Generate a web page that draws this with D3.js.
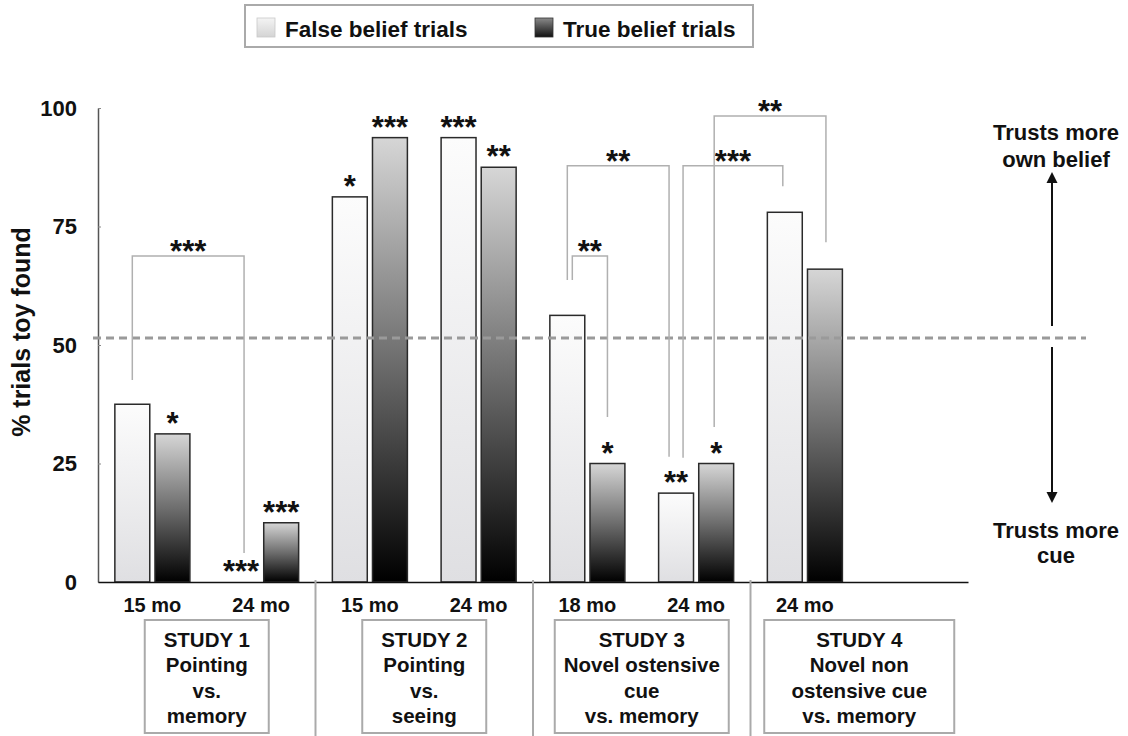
<!DOCTYPE html>
<html>
<head>
<meta charset="utf-8">
<script src="https://cdn.jsdelivr.net/npm/d3@7"></script>
<style>
  body { margin: 0; background: #fff; }
  text { font-family: "Liberation Sans", Arial, Helvetica, sans-serif; font-weight: bold; fill: #111; }
</style>
</head>
<body>
<div id="wrapper"></div>
<script>
// data
const ageLabels = ["15 mo", "24 mo", "15 mo", "24 mo", "18 mo", "24 mo", "24 mo"]
const falseBelief = [37.5, 0, 81.25, 93.75, 56.25, 18.75, 78]
const trueBelief = [31.25, 12.5, 93.75, 87.5, 25, 25, 66]
const falseStars = ["", "***", "*", "***", "", "**", ""]
const trueStars = ["*", "***", "***", "**", "*", "*", ""]
const seriesNames = ["False belief trials", "True belief trials"]
const yTicks = [0, 25, 50, 75, 100]
const chanceLevel = 51.5

const studyTitles = ["STUDY 1", "STUDY 2", "STUDY 3", "STUDY 4"]
const studyLines = [
  ["Pointing", "vs.", "memory"],
  ["Pointing", "vs.", "seeing"],
  ["Novel ostensive", "cue", "vs. memory"],
  ["Novel non", "ostensive cue", "vs. memory"],
]
// first and last slot of each study (slot 7 is the empty one at the right)
const studySlots = [[0, 1], [2, 3], [4, 5], [6, 7]]

// brackets: [slot A, series A, leg A end, slot B, series B, leg B end, top, label]
const brackets = [
  [0, 0, 42.6, 1, 0, 6.1, 68.8, "***"],
  [4, 0, 63.7, 4, 1, 34.8, 68.8, "**"],
  [4, 0, 63.7, 5, 0, 26.4, 87.8, "**"],
  [5, 0, 26.2, 6, 0, 83.5, 87.8, "***"],
  [5, 1, 32.7, 6, 1, 71.7, 98.3, "**"],
]

// layout
const width = 1128
const height = 736
const plot = { left: 98, right: 968, top: 108, bottom: 582 }
const legNudge = [[0, 3], [5, 0], [0, -7], [7, -2], [-2, 1]]
const boxWidths = [124, 124, 174, 190]
// the asterisk glyph sits high, so a baseline at the bar top puts it ~17px above
const starSize = 31

const svg = d3.select("#wrapper")
  .append("svg")
  .attr("width", width)
  .attr("height", height)

const defs = svg.append("defs")
function grad(id, stops) {
  const g = defs.append("linearGradient")
    .attr("id", id)
    .attr("x1", 0).attr("y1", 0).attr("x2", 0).attr("y2", 1)
  stops.forEach(s => g.append("stop").attr("offset", s[0]).attr("stop-color", s[1]))
}
grad("fbGrad", [[0, "#fcfcfc"], [1, "#dfdfe2"]])
grad("tbGrad", [[0, "#d6d6d6"], [0.5, "#6e6e6e"], [1, "#000"]])
grad("fbSwatch", [[0, "#f4f4f4"], [1, "#d4d4d4"]])
grad("tbSwatch", [[0, "#8a8a8a"], [1, "#111"]])

const slots = d3.range(8)
const xScale = d3.scaleBand()
  .domain(slots)
  .range([plot.left, plot.right])
  .paddingInner(0.31)
  .paddingOuter(0.155)

const xSub = d3.scaleBand()
  .domain([0, 1])
  .range([0, xScale.bandwidth()])
  .paddingInner(0.13)

const yScale = d3.scaleLinear()
  .domain([0, 100])
  .range([plot.bottom, plot.top])

const barCenter = (slot, s) => xScale(slot) + xSub(s) + xSub.bandwidth() / 2

// legend
const legend = svg.append("g")
legend.append("rect")
  .attr("x", 245).attr("y", 5).attr("width", 508).attr("height", 42)
  .attr("fill", "#fff").attr("stroke", "#aaa").attr("stroke-width", 2)
const legendX = [257, 535]
seriesNames.forEach((name, i) => {
  legend.append("rect")
    .attr("x", legendX[i]).attr("y", 18).attr("width", 18).attr("height", 19)
    .attr("fill", i === 0 ? "url(#fbSwatch)" : "url(#tbSwatch)")
    .attr("stroke", i === 0 ? "#c8c8c8" : "#333").attr("stroke-width", 0.8)
  legend.append("text")
    .attr("x", legendX[i] + 28).attr("y", 37)
    .style("font-size", "22.5px")
    .text(name)
})

// y axis
const yAxis = d3.axisLeft(yScale)
  .tickValues(yTicks)
  .tickSize(-3)
  .tickSizeOuter(0)
  .tickPadding(21)
const yAxisG = svg.append("g")
  .attr("transform", `translate(${plot.left},0)`)
  .call(yAxis)
yAxisG.select(".domain").attr("stroke", "#555").attr("stroke-width", 1.5)
yAxisG.selectAll(".tick line").attr("stroke", "#888")
yAxisG.selectAll(".tick text")
  .style("font-size", "22px")
  .attr("fill", "#111")

svg.append("text")
  .attr("transform", `translate(30, 332) rotate(-90)`)
  .attr("text-anchor", "middle")
  .style("font-size", "25px")
  .text("% trials toy found")

// bars
const barGroups = svg.append("g").selectAll("g")
  .data(slots.slice(0, ageLabels.length))
  .join("g")
  .attr("transform", d => `translate(${xScale(d)},0)`)

const values = [falseBelief, trueBelief]
const stars = [falseStars, trueStars]
;[0, 1].forEach(s => {
  barGroups.filter(d => values[s][d] > 0)
    .append("rect")
    .attr("x", xSub(s))
    .attr("y", d => yScale(values[s][d]))
    .attr("width", xSub.bandwidth())
    .attr("height", d => plot.bottom - yScale(values[s][d]))
    .attr("fill", s === 0 ? "url(#fbGrad)" : "url(#tbGrad)")
    .attr("stroke", "#2a2a2a")
    .attr("stroke-width", 1.5)

  barGroups.append("text")
    .attr("x", xSub(s) + xSub.bandwidth() / 2)
    .attr("y", d => yScale(values[s][d]))
    .attr("text-anchor", "middle")
    .style("font-size", starSize + "px")
    .text(d => stars[s][d])
})

// chance line
svg.append("line")
  .attr("x1", 93).attr("x2", 1086)
  .attr("y1", yScale(chanceLevel)).attr("y2", yScale(chanceLevel))
  .attr("stroke", "#9a9a9a")
  .attr("stroke-width", 3)
  .attr("stroke-dasharray", "8,5")

// x axis
const xAxisG = svg.append("g")
  .attr("transform", `translate(0,${plot.bottom})`)
  .call(d3.axisBottom(xScale).tickValues([]).tickSizeOuter(0))
xAxisG.select(".domain").attr("stroke", "#111").attr("stroke-width", 1.5)

// brackets
const bracketG = svg.append("g")
brackets.forEach((b, i) => {
  const xa = barCenter(b[0], b[1]) + legNudge[i][0]
  const xb = barCenter(b[3], b[4]) + legNudge[i][1]
  const yt = yScale(b[6])
  bracketG.append("path")
    .attr("d", `M${xa},${yScale(b[2])}V${yt}H${xb}V${yScale(b[5])}`)
    .attr("fill", "none")
    .attr("stroke", "#b0b0b0")
    .attr("stroke-width", 1.5)
  bracketG.append("text")
    .attr("x", (xa + xb) / 2)
    .attr("y", yt + 6)
    .attr("text-anchor", "middle")
    .style("font-size", starSize + "px")
    .text(b[7])
})

// age labels
svg.append("g").selectAll("text")
  .data(ageLabels)
  .join("text")
  .attr("x", (d, i) => xScale(i) + xScale.bandwidth() / 2)
  .attr("y", 612)
  .attr("text-anchor", "middle")
  .style("font-size", "20px")
  .text(d => d)

// study separators
const gap = (xScale.step() - xScale.bandwidth()) / 2
studySlots.slice(1).forEach(s => {
  const x = xScale(s[0]) - gap
  svg.append("line")
    .attr("x1", x).attr("x2", x)
    .attr("y1", plot.bottom - 2).attr("y2", height)
    .attr("stroke", "#aaa").attr("stroke-width", 2)
})

// study boxes
studySlots.forEach((s, i) => {
  const cx = (xScale(s[0]) + xScale(s[1]) + xScale.bandwidth()) / 2
  const g = svg.append("g")
  g.append("rect")
    .attr("x", cx - boxWidths[i] / 2).attr("y", 620)
    .attr("width", boxWidths[i]).attr("height", 113)
    .attr("fill", "#fff").attr("stroke", "#aaa").attr("stroke-width", 2)
  ;[studyTitles[i]].concat(studyLines[i]).forEach((t, j) => {
    g.append("text")
      .attr("x", cx).attr("y", 647 + j * 25.3)
      .attr("text-anchor", "middle")
      .style("font-size", "20.5px")
      .text(t)
  })
})

// right side annotation
const ann = svg.append("g")
const ax = 1052
ann.append("line").attr("x1", ax).attr("x2", ax).attr("y1", 326).attr("y2", 180)
  .attr("stroke", "#111").attr("stroke-width", 2)
ann.append("path").attr("d", `M${ax},172L${ax - 5.5},183L${ax + 5.5},183Z`).attr("fill", "#111")
ann.append("line").attr("x1", ax).attr("x2", ax).attr("y1", 347).attr("y2", 494)
  .attr("stroke", "#111").attr("stroke-width", 2)
ann.append("path").attr("d", `M${ax},503L${ax - 5.5},492L${ax + 5.5},492Z`).attr("fill", "#111")
;[["Trusts more", 140], ["own belief", 167], ["Trusts more", 538], ["cue", 563]].forEach(t => {
  ann.append("text")
    .attr("x", 1056).attr("y", t[1])
    .attr("text-anchor", "middle")
    .style("font-size", "22px")
    .text(t[0])
})
</script>
</body>
</html>
